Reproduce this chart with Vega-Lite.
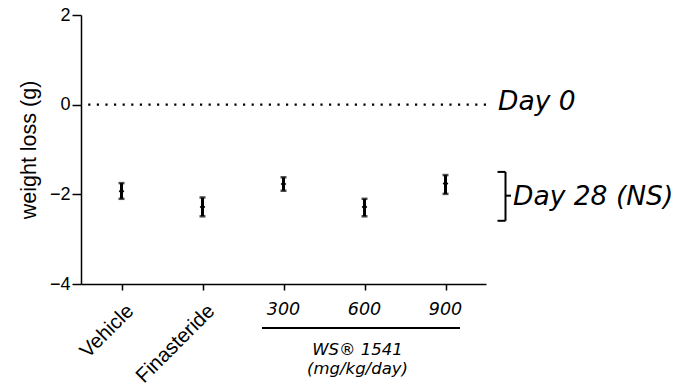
{
  "$schema": "https://vega.github.io/schema/vega-lite/v6.json",
  "autosize": "none",
  "width": 405,
  "height": 269,
  "padding": {"left": 81, "top": 15, "right": 194, "bottom": 103},
  "background": "white",
  "config": {
    "view": {"stroke": null},
    "font": "Liberation Sans",
    "axis": {"domainColor": "black", "tickColor": "black", "labelColor": "black", "titleColor": "black", "grid": false, "domainWidth": 1.5, "tickWidth": 1.5, "labelFont": "Liberation Sans", "titleFont": "Liberation Sans"}
  },
  "datasets": {
    "groups": [
      {"group": "Vehicle", "mean": -1.93, "lo": -2.10, "hi": -1.75},
      {"group": "Finasteride", "mean": -2.28, "lo": -2.49, "hi": -2.07},
      {"group": "300", "mean": -1.77, "lo": -1.92, "hi": -1.62},
      {"group": "600", "mean": -2.28, "lo": -2.49, "hi": -2.10},
      {"group": "900", "mean": -1.76, "lo": -1.99, "hi": -1.57}
    ],
    "rotated": [
      {"group": "Vehicle", "label": "Vehicle"},
      {"group": "Finasteride", "label": "Finasteride"}
    ],
    "doses": [
      {"group": "300", "label": "300"},
      {"group": "600", "label": "600"},
      {"group": "900", "label": "900"}
    ],
    "bracket": [
      {"top": -1.5, "mid": -2.03, "bottom": -2.59}
    ]
  },
  "encoding": {
    "x": {
      "field": "group",
      "type": "nominal",
      "scale": {"type": "point", "padding": 0.5, "domain": ["Vehicle", "Finasteride", "300", "600", "900"]},
      "axis": {"labels": false, "title": null, "tickSize": 6}
    }
  },
  "layer": [
    {
      "data": {"values": [{"ref": 0}]},
      "mark": {"type": "rule", "strokeDash": [2.2, 6.4], "strokeWidth": 2.2, "color": "black"},
      "encoding": {"x": null, "y": {"field": "ref", "type": "quantitative"}}
    },
    {
      "data": {"name": "groups"},
      "mark": {"type": "rule", "strokeWidth": 3, "color": "black"},
      "encoding": {
        "y": {"field": "lo", "type": "quantitative", "scale": {"domain": [-4, 2], "nice": false}, "axis": {"values": [-4, -2, 0, 2], "title": "weight loss (g)", "titleFontSize": 21.5, "titleFontWeight": "normal", "titlePadding": 9, "labelFontSize": 18, "tickSize": 9, "labelPadding": 2}},
        "y2": {"field": "hi"}
      }
    },
    {
      "data": {"name": "groups"},
      "mark": {"type": "tick", "size": 6, "thickness": 2.5, "color": "black"},
      "encoding": {"y": {"field": "lo", "type": "quantitative"}}
    },
    {
      "data": {"name": "groups"},
      "mark": {"type": "tick", "size": 6, "thickness": 2.5, "color": "black"},
      "encoding": {"y": {"field": "hi", "type": "quantitative"}}
    },
    {
      "data": {"name": "groups"},
      "mark": {"type": "point", "shape": "diamond", "filled": true, "size": 32, "color": "black", "opacity": 1},
      "encoding": {"y": {"field": "mean", "type": "quantitative"}}
    },
    {
      "data": {"name": "rotated"},
      "mark": {"type": "text", "angle": -45, "align": "right", "baseline": "middle", "fontSize": 20.5, "color": "black", "xOffset": 9, "yOffset": 24},
      "encoding": {"y": {"datum": -4}, "text": {"field": "label"}}
    },
    {
      "data": {"name": "doses"},
      "mark": {"type": "text", "align": "center", "baseline": "alphabetic", "font": "DejaVu Sans", "fontSize": 17.5, "fontStyle": "italic", "color": "black", "yOffset": 31},
      "encoding": {"y": {"datum": -4}, "text": {"field": "label"}}
    },
    {
      "data": {"values": [{"a": "300", "b": "900", "v": -4}]},
      "mark": {"type": "rule", "strokeWidth": 2, "color": "black", "xOffset": -21.5, "x2Offset": 14.5, "yOffset": 44},
      "encoding": {"x": {"field": "a", "type": "nominal"}, "x2": {"field": "b"}, "y": {"field": "v", "type": "quantitative"}}
    },
    {
      "data": {"values": [{"group": "600", "label": "WS® 1541", "v": -4}]},
      "mark": {"type": "text", "align": "center", "baseline": "alphabetic", "font": "DejaVu Sans", "fontSize": 16.5, "fontStyle": "italic", "color": "black", "xOffset": -7, "yOffset": 71},
      "encoding": {"y": {"field": "v", "type": "quantitative"}, "text": {"field": "label"}}
    },
    {
      "data": {"values": [{"group": "600", "label": "(mg/kg/day)", "v": -4}]},
      "mark": {"type": "text", "align": "center", "baseline": "alphabetic", "font": "DejaVu Sans", "fontSize": 16.5, "fontStyle": "italic", "color": "black", "xOffset": -7, "yOffset": 89.5},
      "encoding": {"y": {"field": "v", "type": "quantitative"}, "text": {"field": "label"}}
    },
    {
      "data": {"values": [{"group": "900", "label": "Day 0", "v": 0}]},
      "mark": {"type": "text", "align": "left", "baseline": "alphabetic", "font": "DejaVu Sans", "fontSize": 26.5, "fontStyle": "italic", "color": "black", "xOffset": 52.5, "yOffset": 5},
      "encoding": {"y": {"field": "v", "type": "quantitative"}, "text": {"field": "label"}}
    },
    {
      "data": {"values": [{"group": "900", "label": "Day 28 (NS)", "v": -2.03}]},
      "mark": {"type": "text", "align": "left", "baseline": "alphabetic", "font": "DejaVu Sans", "fontSize": 26.5, "fontStyle": "italic", "color": "black", "xOffset": 67.5, "yOffset": 9},
      "encoding": {"y": {"field": "v", "type": "quantitative"}, "text": {"field": "label"}}
    },
    {
      "data": {"name": "bracket"},
      "mark": {"type": "rule", "strokeWidth": 2, "color": "black", "xOffset": 60},
      "encoding": {"x": {"datum": "900"}, "y": {"field": "top", "type": "quantitative"}, "y2": {"field": "bottom"}}
    },
    {
      "data": {"name": "bracket"},
      "mark": {"type": "rule", "strokeWidth": 2, "color": "black", "xOffset": 52, "x2Offset": 60},
      "encoding": {"x": {"datum": "900"}, "x2": {"datum": "900"}, "y": {"field": "top", "type": "quantitative"}}
    },
    {
      "data": {"name": "bracket"},
      "mark": {"type": "rule", "strokeWidth": 2, "color": "black", "xOffset": 52, "x2Offset": 60},
      "encoding": {"x": {"datum": "900"}, "x2": {"datum": "900"}, "y": {"field": "bottom", "type": "quantitative"}}
    },
    {
      "data": {"name": "bracket"},
      "mark": {"type": "rule", "strokeWidth": 2, "color": "black", "xOffset": 60, "x2Offset": 65.5},
      "encoding": {"x": {"datum": "900"}, "x2": {"datum": "900"}, "y": {"field": "mid", "type": "quantitative"}}
    }
  ]
}
